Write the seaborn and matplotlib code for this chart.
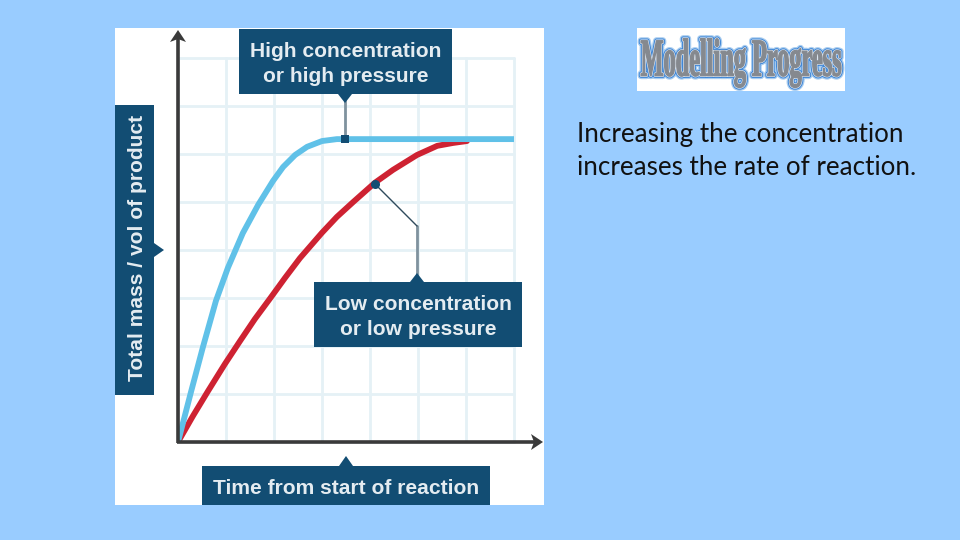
#import required libraries
import pandas as pd
import seaborn as sns
import matplotlib
matplotlib.use("Agg")
import matplotlib.pyplot as plt
import matplotlib.patheffects as pe
from matplotlib.patches import Rectangle, Polygon
from matplotlib.transforms import Affine2D

# values, one grid square = one unit
high_time = [0, 0.125, 0.27, 0.52, 0.79, 1.04, 1.35, 1.67, 1.98, 2.19, 2.44, 2.69, 3.0, 3.31, 7.0]
high_amount = [0, 0.48, 1.04, 1.98, 2.94, 3.63, 4.35, 4.94, 5.44, 5.73, 5.98, 6.15, 6.27, 6.31, 6.31]
low_time = [0, 0.31, 0.625, 0.98, 1.29, 1.6, 1.94, 2.23, 2.54, 3.0, 3.31, 3.65, 4.1, 4.48, 4.98, 5.4, 5.73, 6.02]
low_amount = [0, 0.54, 1.06, 1.63, 2.10, 2.56, 3.02, 3.42, 3.83, 4.36, 4.69, 5.0, 5.40, 5.67, 5.98, 6.17, 6.23, 6.27]

x_ticks = [0, 1, 2, 3, 4, 5, 6, 7]
y_ticks = [0, 1, 2, 3, 4, 5, 6, 7, 8]

high_label = "High concentration\nor high pressure"
low_label = "Low concentration\nor low pressure"
x_label = "Time from start of reaction"
y_label = "Total mass / vol of product"
logo_text = "Modelling Progress"
body_lines = ["Increasing the concentration", "increases the rate of reaction."]

BG = "#99CCFF"
NAVY = "#124D73"
LABEL = "#E4ECF1"
AXIS = "#3A3A3A"
GRID = "#E5F1F6"
STEM = "#7F929E"
BLUE = "#60C1E8"
RED = "#CE2232"

W, H = 960, 540


# stroke that also stretches the glyphs upwards, the logo lettering is very condensed
class TallStroke(pe.Stroke):
    def _offset_transform(self, renderer):
        return Affine2D().translate(0, -483).scale(1, 2.2).translate(0, 483)


sns.set_theme(style="white")
plt.rcParams["font.family"] = ["Liberation Sans", "DejaVu Sans"]

fig = plt.figure(figsize=(W / 100, H / 100), dpi=100, facecolor=BG)

# back layer in pixel coordinates for the white panel and logo box
back = fig.add_axes([0, 0, 1, 1], zorder=0)
back.set_xlim(0, W)
back.set_ylim(H, 0)
back.axis("off")
back.add_patch(Rectangle((115, 28), 429, 477, color="white", lw=0))
back.add_patch(Rectangle((637, 28), 208, 63, color="white", lw=0))

# the chart itself, origin at 178,442 and 48px per unit
ax = fig.add_axes([178 / W, (H - 442) / H, 336 / W, 384 / H], zorder=1)
ax.patch.set_alpha(0)
df = pd.concat([
    pd.DataFrame({"time": low_time, "amount": low_amount, "run": "low"}),
    pd.DataFrame({"time": high_time, "amount": high_amount, "run": "high"}),
])
sns.lineplot(data=df, x="time", y="amount", hue="run", palette={"low": RED, "high": BLUE},
             sort=False, estimator=None, lw=4.2, legend=False, ax=ax, zorder=3)
ax.set_xlim(0, 7)
ax.set_ylim(0, 8)
ax.set_xticks(x_ticks)
ax.set_yticks(y_ticks)
ax.tick_params(length=0, labelbottom=False, labelleft=False)
ax.set_xlabel("")
ax.set_ylabel("")
ax.grid(True, color=GRID, lw=2, clip_on=False)
ax.set_axisbelow(True)
sns.despine(ax=ax, left=True, bottom=True, top=True, right=True)

# front layer, again in pixels, for axes arrows, labels and pointers
top = fig.add_axes([0, 0, 1, 1], zorder=2)
top.set_xlim(0, W)
top.set_ylim(H, 0)
top.axis("off")
top.patch.set_alpha(0)


# navy label box with centred light text
def label_box(x0, y0, x1, y1, text, rotation=0, size=15.1, spacing=1.38):
    top.add_patch(Rectangle((x0, y0), x1 - x0, y1 - y0, color=NAVY, lw=0, zorder=4))
    dx, dy = (3, -2.5) if rotation else (0, 2.5)
    top.text((x0 + x1) / 2 + dx, (y0 + y1) / 2 + dy, text, color=LABEL, fontsize=size, fontweight="bold",
             ha="center", va="center", rotation=rotation, linespacing=spacing, zorder=5)


# small navy triangle
def pointer(points):
    top.add_patch(Polygon(points, closed=True, color=NAVY, lw=0, zorder=4))


# axes with arrow heads
top.plot([178, 178], [443, 36], color=AXIS, lw=2.6, solid_capstyle="butt", zorder=3)
top.plot([177, 536], [442, 442], color=AXIS, lw=2.6, solid_capstyle="butt", zorder=3)
top.add_patch(Polygon([(178, 30), (186, 42), (178, 39), (170, 42)], closed=True, color=AXIS, lw=0, zorder=3))
top.add_patch(Polygon([(543, 442), (531, 434), (534, 442), (531, 450)], closed=True, color=AXIS, lw=0, zorder=3))

label_box(239, 29, 452, 94, high_label)
label_box(314, 282, 522, 347, low_label)
label_box(202, 466, 490, 505, x_label)
label_box(115, 105, 154, 395, y_label, rotation=90)

pointer([(338, 94), (352, 94), (345, 103)])
pointer([(410, 282), (424, 282), (417, 273)])
pointer([(339, 466), (353, 466), (346, 456)])
pointer([(154, 243), (154, 257), (164, 250)])

# callout stems and their markers
top.plot([345, 345], [100, 136], color=STEM, lw=2, zorder=3)
top.plot([345], [139], marker="s", ms=5.8, color=NAVY, mew=0, zorder=5)
top.plot([417, 417], [226, 276], color=STEM, lw=2, zorder=3)
top.plot([417, 375], [226, 184], color="#2F4A5C", lw=1, zorder=3)
top.plot([375], [184], marker="o", ms=6.5, color=NAVY, mew=0, zorder=5)

# logo text with a blue glow
top.text(741, 60, logo_text, family="Liberation Serif", fontweight="bold", fontsize=17.5,
         color="#85898F", ha="center", va="center", zorder=5,
         path_effects=[TallStroke(linewidth=5, foreground="#A9CDF0"),
                       TallStroke(linewidth=3.2, foreground="#3F86D6"),
                       TallStroke(linewidth=1.8, foreground="#DDE6F0"),
                       TallStroke(linewidth=0.9, foreground="#85898F")])

# body text on the right
for y, line in zip([142, 175], body_lines):
    top.text(577, y, line, family="Lato", fontsize=18.75, color="#111111", ha="left", va="baseline")

fig.savefig("out.png", dpi=100, facecolor=BG)
